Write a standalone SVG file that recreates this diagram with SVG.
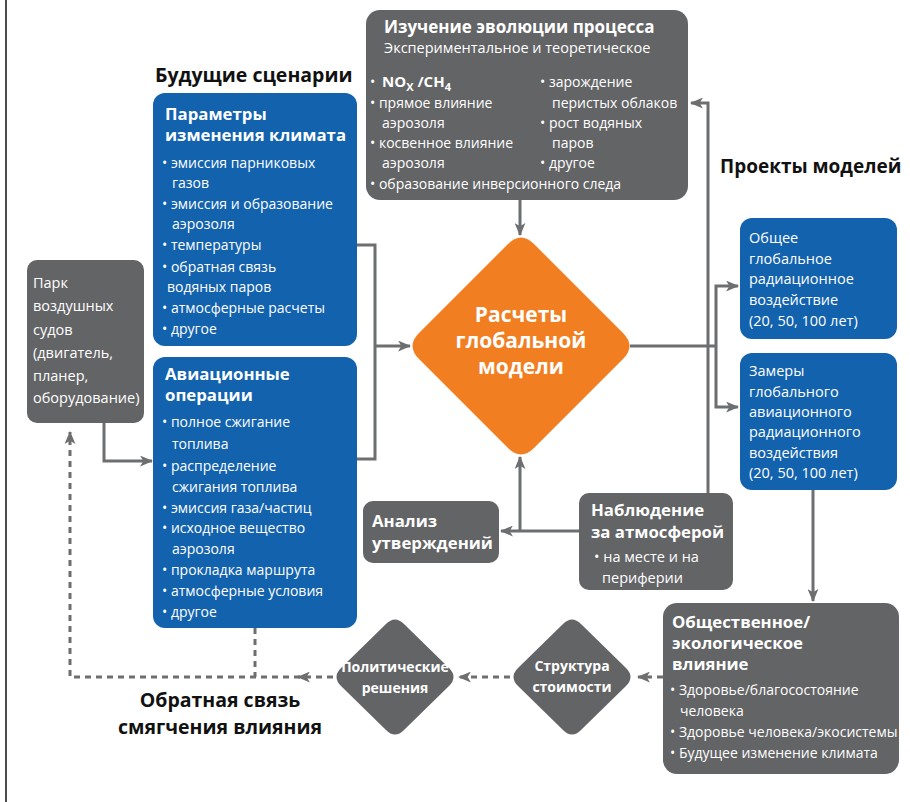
<svg xmlns="http://www.w3.org/2000/svg" width="910" height="802" viewBox="0 0 910 802">
<defs>
<style>
text{font-family:"Open Sans","Noto Sans","DejaVu Sans",sans-serif;}
.w{fill:#ffffff;}
.k{fill:#111111;}
.t{font-size:16.8px;font-weight:700;}
.b{font-size:14px;}
.p{font-size:14.5px;}
.h{font-size:19.5px;font-weight:700;}
.gray{fill:#636466;}
.blue{fill:#1262ae;}
.org{fill:#f27e22;}
.ln{fill:none;stroke:#6d6e70;stroke-width:3;}
.dl{fill:none;stroke:#6d6e70;stroke-width:3;stroke-dasharray:6 5;}
</style>
<marker id="ah" viewBox="0 0 12 10" refX="11" refY="5" markerWidth="13" markerHeight="11" orient="auto" markerUnits="userSpaceOnUse"><path d="M0,0 L12,5 L0,10 L3,5 Z" fill="#6d6e70"/></marker>
</defs>
<rect width="910" height="802" fill="#ffffff"/>
<line x1="6" y1="0" x2="6" y2="802" stroke="#111" stroke-width="1.5"/>

<g id="connectors">
<path class="ln" d="M520,200 V235" marker-end="url(#ah)"/>
<path class="ln" d="M357,245 H375 V459 H357"/>
<path class="ln" d="M375,346 H410" marker-end="url(#ah)"/>
<path class="ln" d="M630,346 H716"/>
<path class="ln" d="M716,346 V286 H738" marker-end="url(#ah)"/>
<path class="ln" d="M716,346 V407 H738" marker-end="url(#ah)"/>
<path class="ln" d="M708,493 V103 H691" marker-end="url(#ah)"/>
<path class="ln" d="M579,531 H501" marker-end="url(#ah)"/>
<path class="ln" d="M520,531 V457" marker-end="url(#ah)"/>
<path class="ln" d="M813,490 V601" marker-end="url(#ah)"/>
<path class="ln" d="M104,423 V461 H152" marker-end="url(#ah)"/>
<path class="dl" d="M663,677 H638" marker-end="url(#ah)"/>
<path class="dl" d="M510,677 H459" marker-end="url(#ah)"/>
<path class="dl" d="M333,677 H298" marker-end="url(#ah)"/>
<path class="dl" d="M300,677 H70 V432" marker-end="url(#ah)"/>
<path class="dl" d="M255,628 V677"/>
</g>

<g id="label-future">
<text class="h k" x="155" y="82">Будущие сценарии</text>
</g>
<g id="label-projects">
<text class="h k" x="720" y="173" style="font-size:19px">Проекты моделей</text>
</g>
<g id="label-feedback">
<text class="h k" x="220" y="707" text-anchor="middle">Обратная связь</text>
<text class="h k" x="220" y="734" text-anchor="middle">смягчения влияния</text>
</g>

<g id="process">
<rect class="gray" x="366" y="10" width="322" height="190" rx="14"/>
<text class="t w" x="384" y="33" style="font-size:17px">Изучение эволюции процесса</text>
<text class="w" x="384" y="53" style="font-size:14.5px">Экспериментальное и теоретическое</text>
<text class="b w" x="370" y="87">•</text>
<text class="w" x="382" y="87" style="font-size:15px;font-weight:700">NO<tspan dy="4" style="font-size:11px">X</tspan><tspan dy="-4"> /CH</tspan><tspan dy="4" style="font-size:11px">4</tspan></text>
<text class="b w" x="370" y="108">• прямое влияние</text>
<text class="b w" x="382" y="128">аэрозоля</text>
<text class="b w" x="370" y="148">• косвенное влияние</text>
<text class="b w" x="382" y="168">аэрозоля</text>
<text class="b w" x="370" y="189">• образование инверсионного следа</text>
<text class="b w" x="540" y="87">• зарождение</text>
<text class="b w" x="552" y="108">перистых облаков</text>
<text class="b w" x="540" y="128">• рост водяных</text>
<text class="b w" x="552" y="148">паров</text>
<text class="b w" x="540" y="168">• другое</text>
</g>

<g id="climate-params">
<rect class="blue" x="153" y="93" width="204" height="253" rx="12"/>
<text class="t w" x="165" y="120">Параметры</text>
<text class="t w" x="165" y="141">изменения климата</text>
<text class="b w" x="162" y="168">• эмиссия парниковых</text>
<text class="b w" x="172" y="188">газов</text>
<text class="b w" x="162" y="209">• эмиссия и образование</text>
<text class="b w" x="172" y="229">аэрозоля</text>
<text class="b w" x="162" y="250">• температуры</text>
<text class="b w" x="162" y="272">• обратная связь</text>
<text class="b w" x="167" y="292">водяных паров</text>
<text class="b w" x="162" y="313">• атмосферные расчеты</text>
<text class="b w" x="162" y="334">• другое</text>
</g>

<g id="aviation-ops">
<rect class="blue" x="153" y="357" width="204" height="271" rx="12"/>
<text class="t w" x="165" y="380">Авиационные</text>
<text class="t w" x="165" y="401">операции</text>
<text class="b w" x="162" y="427">• полное сжигание</text>
<text class="b w" x="172" y="449">топлива</text>
<text class="b w" x="162" y="471">• распределение</text>
<text class="b w" x="172" y="492">сжигания топлива</text>
<text class="b w" x="162" y="513">• эмиссия газа/частиц</text>
<text class="b w" x="162" y="533">• исходное вещество</text>
<text class="b w" x="172" y="554">аэрозоля</text>
<text class="b w" x="162" y="575">• прокладка маршрута</text>
<text class="b w" x="162" y="596">• атмосферные условия</text>
<text class="b w" x="162" y="617">• другое</text>
</g>

<g id="fleet">
<rect class="gray" x="27" y="260" width="117" height="163" rx="10"/>
<text class="p w" x="33" y="288">Парк</text>
<text class="p w" x="33" y="311">воздушных</text>
<text class="p w" x="33" y="335">судов</text>
<text class="p w" x="33" y="358">(двигатель,</text>
<text class="p w" x="33" y="381">планер,</text>
<text class="p w" x="33" y="403">оборудование)</text>
</g>

<g id="global-model">
<path class="org" d="M508,244 Q521,231 534,244 L623,333 Q636,346 623,359 L534,448 Q521,461 508,448 L419,359 Q406,346 419,333 Z"/>
<text class="w" x="521" y="322" text-anchor="middle" style="font-size:21px;font-weight:700">Расчеты</text>
<text class="w" x="521" y="348" text-anchor="middle" style="font-size:21px;font-weight:700">глобальной</text>
<text class="w" x="521" y="374" text-anchor="middle" style="font-size:21px;font-weight:700">модели</text>
</g>

<g id="total-rf">
<rect class="blue" x="740" y="218" width="157" height="121" rx="12"/>
<text class="p w" x="749" y="243">Общее</text>
<text class="p w" x="749" y="264">глобальное</text>
<text class="p w" x="749" y="284">радиационное</text>
<text class="p w" x="749" y="305">воздействие</text>
<text class="p w" x="749" y="326">(20, 50, 100 лет)</text>
</g>

<g id="aviation-rf">
<rect class="blue" x="740" y="353" width="157" height="137" rx="12"/>
<text class="p w" x="749" y="376">Замеры</text>
<text class="p w" x="749" y="397">глобального</text>
<text class="p w" x="749" y="417">авиационного</text>
<text class="p w" x="749" y="437">радиационного</text>
<text class="p w" x="749" y="458">воздействия</text>
<text class="p w" x="749" y="478">(20, 50, 100 лет)</text>
</g>

<g id="assessment">
<rect class="gray" x="363" y="501" width="136" height="62" rx="10"/>
<text class="t w" x="372" y="527">Анализ</text>
<text class="t w" x="372" y="549">утверждений</text>
</g>

<g id="observation">
<rect class="gray" x="579" y="493" width="154" height="97" rx="10"/>
<text class="t w" x="591" y="516">Наблюдение</text>
<text class="t w" x="591" y="538">за атмосферой</text>
<text class="p w" x="594" y="562">• на месте и на</text>
<text class="p w" x="602" y="583">периферии</text>
</g>

<g id="impacts">
<rect class="gray" x="663" y="603" width="236" height="171" rx="14"/>
<text class="t w" x="672" y="628">Общественное/</text>
<text class="t w" x="672" y="649">экологическое</text>
<text class="t w" x="672" y="670">влияние</text>
<text class="b w" x="670" y="695">• Здоровье/благосостояние</text>
<text class="b w" x="680" y="716">человека</text>
<text class="b w" x="670" y="737">• Здоровье человека/экосистемы</text>
<text class="b w" x="670" y="758">• Будущее изменение климата</text>
</g>

<g id="cost">
<path class="gray" d="M563,624 Q572,615 581,624 L626,668 Q635,677 626,686 L581,730 Q572,739 563,730 L518,686 Q509,677 518,668 Z"/>
<text class="w" x="572" y="671" text-anchor="middle" style="font-size:14px;font-weight:700">Структура</text>
<text class="w" x="572" y="692" text-anchor="middle" style="font-size:14px;font-weight:700">стоимости</text>
</g>

<g id="policy">
<path class="gray" d="M386,624 Q395,615 404,624 L449,668 Q458,677 449,686 L404,730 Q395,739 386,730 L341,686 Q332,677 341,668 Z"/>
<text class="w" x="395" y="672" text-anchor="middle" style="font-size:14px;font-weight:700">Политические</text>
<text class="w" x="395" y="693" text-anchor="middle" style="font-size:14px;font-weight:700">решения</text>
</g>
</svg>
